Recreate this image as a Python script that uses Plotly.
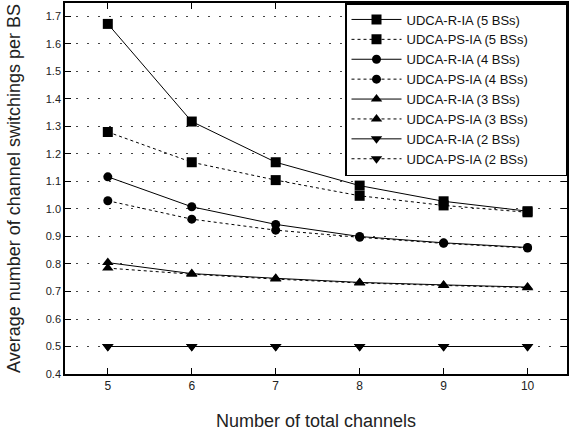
import plotly.graph_objects as go

channels = [5, 6, 7, 8, 9, 10]

r_ia_5 = [1.673, 1.318, 1.170, 1.085, 1.028, 0.992]
ps_ia_5 = [1.280, 1.170, 1.105, 1.048, 1.013, 0.988]
r_ia_4 = [1.117, 1.008, 0.944, 0.900, 0.877, 0.860]
ps_ia_4 = [1.030, 0.963, 0.923, 0.897, 0.875, 0.858]
r_ia_3 = [0.805, 0.765, 0.748, 0.733, 0.724, 0.716]
ps_ia_3 = [0.785, 0.763, 0.745, 0.731, 0.722, 0.714]
r_ia_2 = [0.5, 0.5, 0.5, 0.5, 0.5, 0.5]
ps_ia_2 = [0.5, 0.5, 0.5, 0.5, 0.5, 0.5]

series = [
    ("UDCA-R-IA (5 BSs)", r_ia_5, "solid", "square", 10),
    ("UDCA-PS-IA (5 BSs)", ps_ia_5, "dot", "square", 10),
    ("UDCA-R-IA (4 BSs)", r_ia_4, "solid", "circle", 9),
    ("UDCA-PS-IA (4 BSs)", ps_ia_4, "dot", "circle", 9),
    ("UDCA-R-IA (3 BSs)", r_ia_3, "solid", "triangle-up", 10),
    ("UDCA-PS-IA (3 BSs)", ps_ia_3, "dot", "triangle-up", 10),
    ("UDCA-R-IA (2 BSs)", r_ia_2, "solid", "triangle-down", 10),
    ("UDCA-PS-IA (2 BSs)", ps_ia_2, "dot", "triangle-down", 10),
]

pad = "\u00a0" * 9

fig = go.Figure()
for name, vals, dash, sym, sz in series:
    fig.add_trace(go.Scatter(
        x=channels, y=vals, name=name + pad, mode="lines+markers",
        line=dict(color="black", width=1, dash=dash),
        marker=dict(symbol=sym, size=sz, color="black"),
    ))

font = "Liberation Sans, Arial, sans-serif"
fig.update_layout(
    width=569, height=433,
    margin=dict(l=65, r=2, t=3, b=59, autoexpand=False),
    paper_bgcolor="white", plot_bgcolor="white",
    font=dict(family=font, color="#222", size=11),
    showlegend=True,
    legend=dict(
        x=1, y=1, xanchor="right", yanchor="top",
        bgcolor="white", bordercolor="black", borderwidth=1.5,
        font=dict(size=13, color="#111"),
        tracegroupgap=0, itemwidth=50,
    ),
    xaxis=dict(
        range=[4.49, 10.47], tickvals=channels, ticktext=[str(c) for c in channels],
        ticks="inside", ticklen=6, tickcolor="black", tickfont=dict(size=12),
        showline=True, linecolor="black", linewidth=1.5, mirror="ticks",
        showgrid=False, zeroline=False, automargin=False,
        title=dict(text="Number of total channels", font=dict(size=18), standoff=22),
    ),
    yaxis=dict(
        range=[0.4, 1.749], tickvals=[round(0.4 + 0.1 * i, 1) for i in range(14)],
        tickformat=".1f",
        ticks="inside", ticklen=6, tickcolor="black",
        showline=True, linecolor="black", linewidth=1.5, mirror="ticks",
        showgrid=True, gridcolor="#444", gridwidth=1, griddash="2px,9px",
        zeroline=False, automargin=False,
        title=dict(text="Average number of channel switchings per BS", font=dict(size=18), standoff=20),
    ),
)

fig.write_html("out.html", config={"displayModeBar": False},
               post_script="document.body.style.margin='0';")
